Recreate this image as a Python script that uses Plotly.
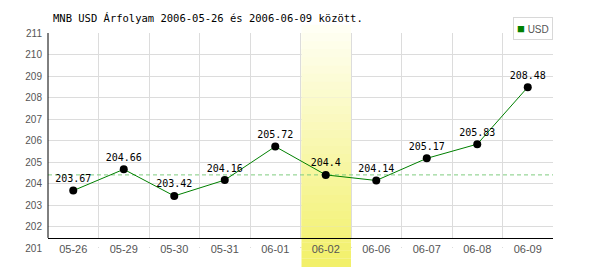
import plotly.graph_objects as go

# ---- data ----
categories = ["05-26", "05-29", "05-30", "05-31", "06-01",
              "06-02", "06-06", "06-07", "06-08", "06-09"]
usd_values = [203.67, 204.66, 203.42, 204.16, 205.72,
              204.4, 204.14, 205.17, 205.83, 208.48]
series_name = "USD"
highlight_day = "06-02"
title_text = "MNB USD Árfolyam 2006-05-26 és 2006-06-09 között."
y_ticks = list(range(201, 212))

# ---- styling ----
Y_MIN, Y_MAX = 201, 211
AXIS_BASE = 201.47          # value where the black x axis line sits
GRID = "#dcdcdc"
LINE_GREEN = "#008000"
DASH_GREEN = "#7fcc7f"
TICK_GRAY = "#555555"

hi = categories.index(highlight_day)
n_cat = len(categories)

fig = go.Figure()
fig.add_trace(go.Scatter(
    x=categories, y=usd_values, name=series_name,
    mode="lines+markers+text",
    line=dict(color=LINE_GREEN, width=1),
    marker=dict(color="black", size=8),
    text=[str(v) for v in usd_values],
    textposition="top center",
    textfont=dict(family="DejaVu Sans Mono", size=10, color="black"),
    cliponaxis=False,
    showlegend=False,
))

shapes = []
# white cover under the axis line (hides vertical grid below it)
shapes.append(dict(type="rect", xref="x", yref="y",
                   x0=-0.5, x1=n_cat - 0.52,
                   y0=Y_MIN + 0.05, y1=AXIS_BASE,
                   fillcolor="white", line=dict(width=0), layer="between"))
# highlight band with vertical gradient (paper part outside, axis part inside)
n_steps = 30
yb, yt = -0.088, 1.037          # paper fractions of band bottom / top
c_bot = (242, 240, 104)
c_top = (255, 255, 246)
span = Y_MAX - Y_MIN
for i in range(n_steps):
    f = (i + 0.5) / n_steps
    col = "rgb(%d,%d,%d)" % tuple(
        round(c_bot[k] + (c_top[k] - c_bot[k]) * f) for k in range(3))
    p0 = yb + (yt - yb) * i / n_steps
    p1 = yb + (yt - yb) * (i + 1) / n_steps + 0.001
    shapes.append(dict(type="rect", xref="x", yref="paper",
                       x0=hi - 0.5 + 0.02, x1=hi + 0.5, y0=p0, y1=p1,
                       fillcolor=col, line=dict(width=0), layer="below"))
    shapes.append(dict(type="rect", xref="x", yref="y",
                       x0=hi - 0.5 + 0.02, x1=hi + 0.5,
                       y0=Y_MIN + span * p0, y1=Y_MIN + span * p1,
                       fillcolor=col, line=dict(width=0), layer="between"))
# dashed reference line at the highlighted day's value
shapes.append(dict(type="line", xref="x", yref="y",
                   x0=-0.5, x1=n_cat - 0.5,
                   y0=usd_values[hi], y1=usd_values[hi],
                   line=dict(color=DASH_GREEN, width=1, dash="4px,3px"),
                   layer="between"))
# left black axis line
shapes.append(dict(type="line", xref="paper", yref="y",
                   x0=0, x1=0, y0=AXIS_BASE, y1=Y_MAX,
                   line=dict(color="black", width=1), layer="above"))

fig.update_layout(
    width=600, height=270,
    margin=dict(l=48, r=47, t=33, b=22),
    paper_bgcolor="white", plot_bgcolor="white",
    title=dict(text=title_text, xref="container", yref="container",
               x=53 / 600, xanchor="left", y=1 - 18 / 270, yanchor="middle",
               font=dict(family="DejaVu Sans Mono", size=10.5, color="black")),
    shapes=shapes,
    annotations=[dict(
        text="<span style='color:%s;font-size:13px'>■</span> %s"
             % (LINE_GREEN, series_name),
        xref="paper", yref="paper", x=1.0, y=(248 - 17) / 215,
        xanchor="right", yanchor="top", showarrow=False,
        font=dict(family="Liberation Sans", size=10, color=TICK_GRAY),
        bgcolor="white", bordercolor="#d8d8d8", borderwidth=1, borderpad=3,
    )],
    xaxis=dict(
        type="category", categoryorder="array", categoryarray=categories,
        range=[-0.5, n_cat - 0.5],
        tickson="boundaries", ticks="",
        showgrid=True, gridcolor=GRID, gridwidth=1,
        showline=True, linecolor="black", linewidth=1,
        anchor="free", position=(AXIS_BASE - Y_MIN) / (Y_MAX - Y_MIN),
        tickfont=dict(family="Liberation Sans", size=11, color=TICK_GRAY),
        ticklabelstandoff=1,
        zeroline=False, fixedrange=True,
    ),
    yaxis=dict(
        range=[Y_MIN, Y_MAX], tickvals=y_ticks,
        ticktext=[str(t) for t in y_ticks],
        showgrid=True, gridcolor=GRID, gridwidth=1,
        showline=False, ticks="", zeroline=False,
        tickfont=dict(family="Liberation Sans", size=10, color=TICK_GRAY),
        ticklabelstandoff=5, fixedrange=True,
    ),
)

fig.write_html("out.html")
